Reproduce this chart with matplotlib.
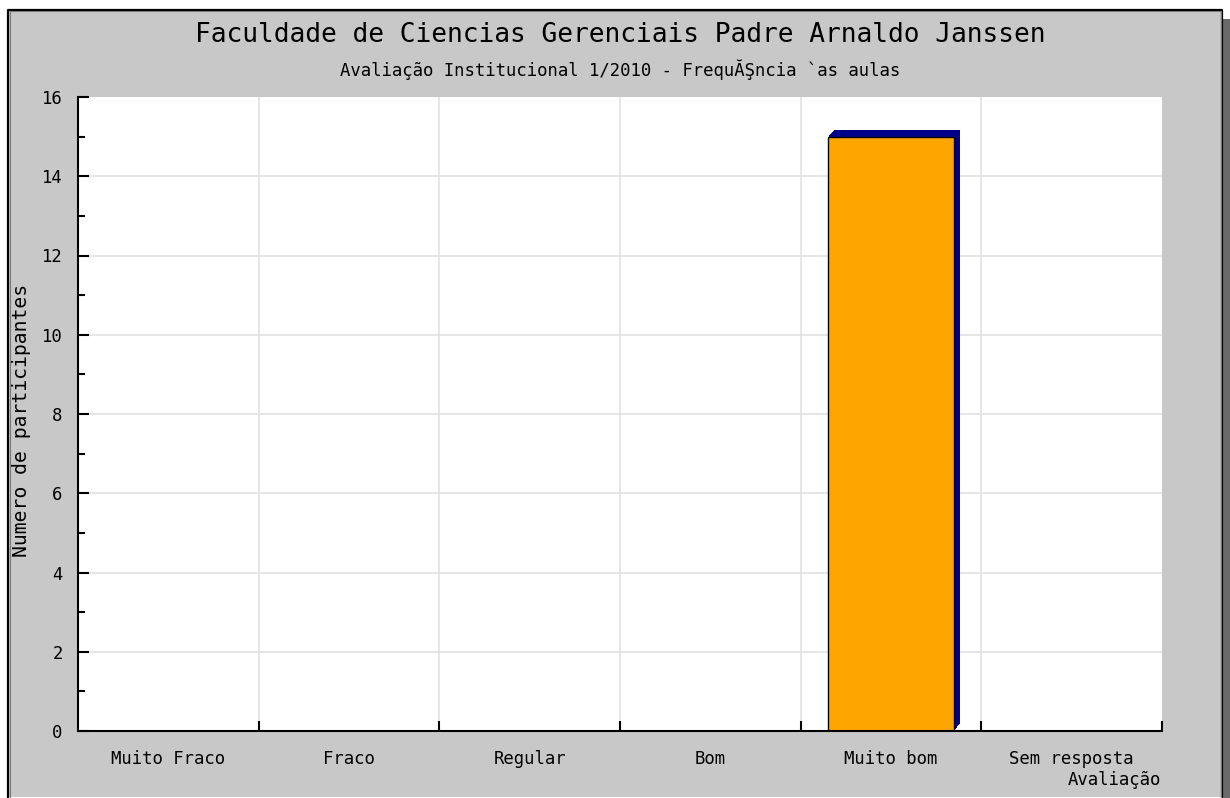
import matplotlib
matplotlib.use("Agg")
import matplotlib.pyplot as plt
from matplotlib.patches import Rectangle
from matplotlib.lines import Line2D
from matplotlib.transforms import offset_copy
import numpy as np

categories = ["Muito Fraco", "Fraco", "Regular", "Bom", "Muito bom", "Sem resposta"]
values = [0, 0, 0, 0, 15, 0]
y_ticks = [0, 2, 4, 6, 8, 10, 12, 14, 16]

title = "Faculdade de Ciencias Gerenciais Padre Arnaldo Janssen"
subtitle = "Avaliação Institucional 1/2010 - FrequĂŞncia `as aulas"
x_label = "Avaliação"
y_label = "Numero de participantes"

W, H = 1230, 798
DPI = 100
MONO = "DejaVu Sans Mono"
BG = "#c8c8c8"

fig = plt.figure(figsize=(W / DPI, H / DPI), dpi=DPI, facecolor="white")


def fx(px):
    return px / W


def fy(py):
    return 1 - py / H


# frame: drop shadow, gray panel, dark outline
fig.patches.append(Rectangle((fx(1222), fy(798)), fx(8), 779 / H,
                             transform=fig.transFigure, facecolor="#6a6a6a",
                             edgecolor="none", zorder=-3))
fig.patches.append(Rectangle((fx(8), fy(797)), fx(1214), 788 / H,
                             transform=fig.transFigure, facecolor=BG,
                             edgecolor="none", zorder=-2))
fig.lines.append(Line2D([fx(8), fx(8), fx(1222), fx(1222)],
                        [fy(797), fy(9.5), fy(9.5), fy(797)],
                        transform=fig.transFigure, color="black", lw=1.6, zorder=-1))
fig.lines.append(Line2D([fx(9.5), fx(9.5), fx(1220.5), fx(1220.5)],
                        [fy(797), fy(11), fy(11), fy(797)],
                        transform=fig.transFigure, color="#7a7a7a", lw=0.8, zorder=-1))

ax = fig.add_axes([fx(78), fy(731), fx(1162 - 78), (731 - 97) / H])
ax.set_zorder(2)
ax.set_facecolor("white")

x = np.arange(len(categories))
ax.set_xlim(-0.5, len(categories) - 0.5)
ax.set_ylim(y_ticks[0], y_ticks[-1])

# grid
for yv in y_ticks[1:-1]:
    ax.axhline(yv, color="#e2e2e2", lw=1.2, zorder=0.5)
for xb in np.arange(0.5, len(categories) - 0.5, 1):
    ax.axvline(xb, color="#e2e2e2", lw=1.2, zorder=0.5)

# bars with an extruded 3D-style shadow toward the upper right
vals = np.array(values, dtype=float)
mask = vals > 0
for k in range(1, 7):
    shadow_tr = offset_copy(ax.transData, fig=fig, x=k, y=k * 7 / 6, units="dots")
    ax.bar(x[mask], vals[mask], width=0.70, color="#000088", edgecolor="none",
           transform=shadow_tr, zorder=2, clip_on=False)
ax.bar(x[mask], vals[mask], width=0.70, color="#ffa500", edgecolor="black",
       linewidth=1.0, zorder=3)

# spines
for s in ("top", "right"):
    ax.spines[s].set_visible(False)
for s in ("left", "bottom"):
    ax.spines[s].set_color("black")
    ax.spines[s].set_linewidth(1.5)
    ax.spines[s].set_zorder(4)

# y axis ticks
ax.set_yticks(y_ticks)
ax.set_yticks(np.arange(1, y_ticks[-1], 2), minor=True)
ax.tick_params(axis="y", which="major", direction="in", length=8, width=1.5,
               pad=11, labelsize=12.4, colors="black")
ax.tick_params(axis="y", which="minor", direction="in", length=5, width=1.5)
for lab in ax.get_yticklabels():
    lab.set_fontfamily(MONO)

# x axis: ticks at category boundaries, labels centered
ax.set_xticks(x)
ax.set_xticklabels(categories, fontfamily=MONO, fontsize=12.4)
ax.set_xticks(np.arange(0.5, len(categories), 1), minor=True)
ax.tick_params(axis="x", which="major", length=0, pad=14)
ax.tick_params(axis="x", which="minor", direction="in", length=7, width=1.5)

# texts
fig.text(fx(620), fy(35), title, ha="center", va="center",
         fontfamily=MONO, fontsize=18.9, color="black")
fig.text(fx(620), fy(70), subtitle, ha="center", va="center",
         fontfamily=MONO, fontsize=12.4, color="black")
fig.text(fx(1161), fy(780), x_label, ha="right", va="center",
         fontfamily=MONO, fontsize=12.4, color="black")
fig.text(fx(22), fy(420), y_label, ha="center", va="center", rotation=90,
         fontfamily=MONO, fontsize=14.2, color="black")

fig.savefig("out.png", dpi=DPI, facecolor="white")
